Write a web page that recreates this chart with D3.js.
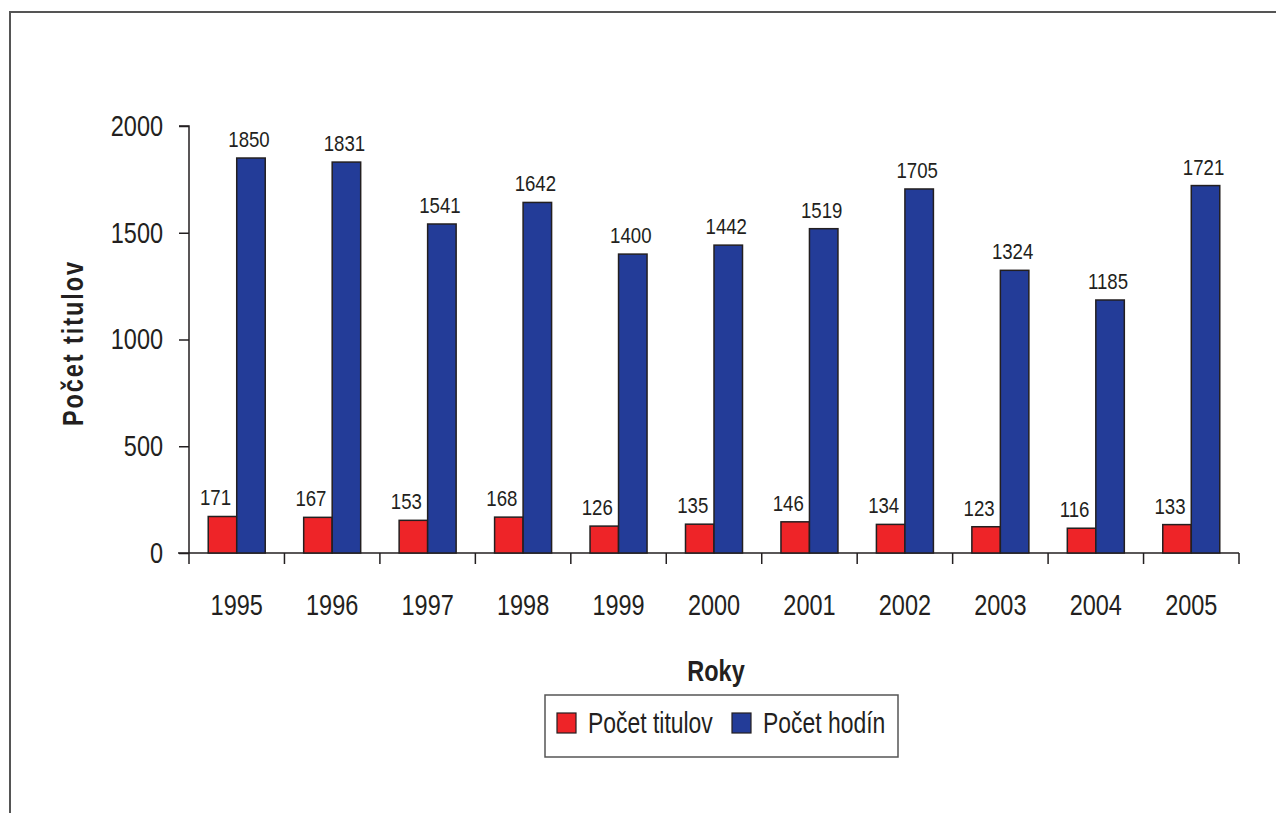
<!DOCTYPE html>
<html><head><meta charset="utf-8">
<script src="https://cdn.jsdelivr.net/npm/d3@7"></script>
<style>
body{margin:0;background:#fff;}
text{font-family:"Liberation Sans Narrow","Arial Narrow","Liberation Sans",Arial,sans-serif;fill:#231f20;}
</style></head><body>
<svg id="c" width="1276" height="813"></svg>
<script>
const years = ["1995","1996","1997","1998","1999","2000","2001","2002","2003","2004","2005"];
const titles = [171,167,153,168,126,135,146,134,123,116,133];
const hours = [1850,1831,1541,1642,1400,1442,1519,1705,1324,1185,1721];
const yTicks = [0,500,1000,1500,2000];
const seriesNames = ["Počet titulov","Počet hodín"];
const colors = ["#ee2428","#233c98"];
const SX = 0.81; // condense to mimic Arial Narrow

const svg = d3.select("#c");
function label(parent, x, y, txt, size, anchor, bold, rot, sx){
  return parent.append("text")
    .attr("transform", `translate(${x},${y})` + (rot ? ` rotate(${rot})` : "") + ` scale(${sx||SX},1)`)
    .attr("text-anchor", anchor).attr("font-size", size)
    .attr("font-weight", bold ? "bold" : "normal").text(txt);
}

// frame
svg.append("path").attr("d","M10,813 V12 H1276").attr("fill","none").attr("stroke","#555").attr("stroke-width",2);

const x = d3.scaleBand().domain(years).range([189,1239]).padding(0);
const y = d3.scaleLinear().domain([0,2000]).range([553,126]);
const inner = d3.scaleBand().domain([0,1]).range([0,57]);
const groupOff = (x.bandwidth()-57)/2;

// y axis
const ya = svg.append("g").attr("transform","translate(189,0)")
  .call(d3.axisLeft(y).tickValues(yTicks).tickSize(10).tickPadding(16).tickFormat(d3.format("d")));
ya.select(".domain").attr("stroke","#231f20").attr("stroke-width",1.5).attr("d","M-10,126H0V553");
ya.selectAll(".tick line").attr("stroke","#231f20").attr("stroke-width",1.5);
ya.selectAll(".tick text").attr("font-size",29).attr("fill","#231f20").attr("font-family",null)
  .attr("x",-26/SX).attr("transform",`scale(${SX},1)`);

// x axis
const xa = svg.append("g").attr("transform","translate(0,553)")
  .call(d3.axisBottom(x).tickSize(0));
xa.select(".domain").remove();
xa.selectAll(".tick line").remove();
xa.selectAll(".tick text").attr("font-size",29).attr("fill","#231f20").attr("font-family",null)
  .attr("y",62).attr("dy",0).attr("transform",`scale(${SX},1)`);
svg.append("line").attr("x1",178).attr("x2",1239).attr("y1",553).attr("y2",553).attr("stroke","#231f20").attr("stroke-width",1.5);
const bounds = years.map(d=>x(d)).concat([x(years[years.length-1])+x.bandwidth()]);
svg.append("g").selectAll("line").data(bounds).join("line")
  .attr("x1",d=>d).attr("x2",d=>d).attr("y1",553).attr("y2",564)
  .attr("stroke","#231f20").attr("stroke-width",1.5);

// bars
const series = [titles, hours];
const labelShift = [-7, -2];
series.forEach((vals,si)=>{
  const g = svg.append("g");
  g.selectAll("rect").data(vals).join("rect")
    .attr("x",(d,i)=>x(years[i])+groupOff+inner(si))
    .attr("y",d=>y(d))
    .attr("width",inner.bandwidth())
    .attr("height",d=>y(0)-y(d))
    .attr("fill",colors[si]).attr("stroke","#231f20").attr("stroke-width",1.5);
  vals.forEach((d,i)=>{
    label(g, x(years[i])+groupOff+inner(si)+inner.bandwidth()/2+labelShift[si], y(d)-11, d, 23, "middle");
  });
});

// axis titles
label(svg, 716, 681, "Roky", 29, "middle", true);
label(svg, 83, 343, "Počet titulov", 29, "middle", true, -90).attr("letter-spacing", 2.4);

// legend
const lg = svg.append("g");
lg.append("rect").attr("x",545).attr("y",695).attr("width",353).attr("height",62)
  .attr("fill","#fff").attr("stroke","#555").attr("stroke-width",1.5);
const lx = [557,732];
seriesNames.forEach((n,i)=>{
  lg.append("rect").attr("x",lx[i]).attr("y",713).attr("width",19).attr("height",20)
    .attr("fill",colors[i]).attr("stroke","#231f20").attr("stroke-width",1.2);
  label(lg, lx[i]+31, 733, n, 29, "start", false, 0, 0.79);
});
</script></body></html>
